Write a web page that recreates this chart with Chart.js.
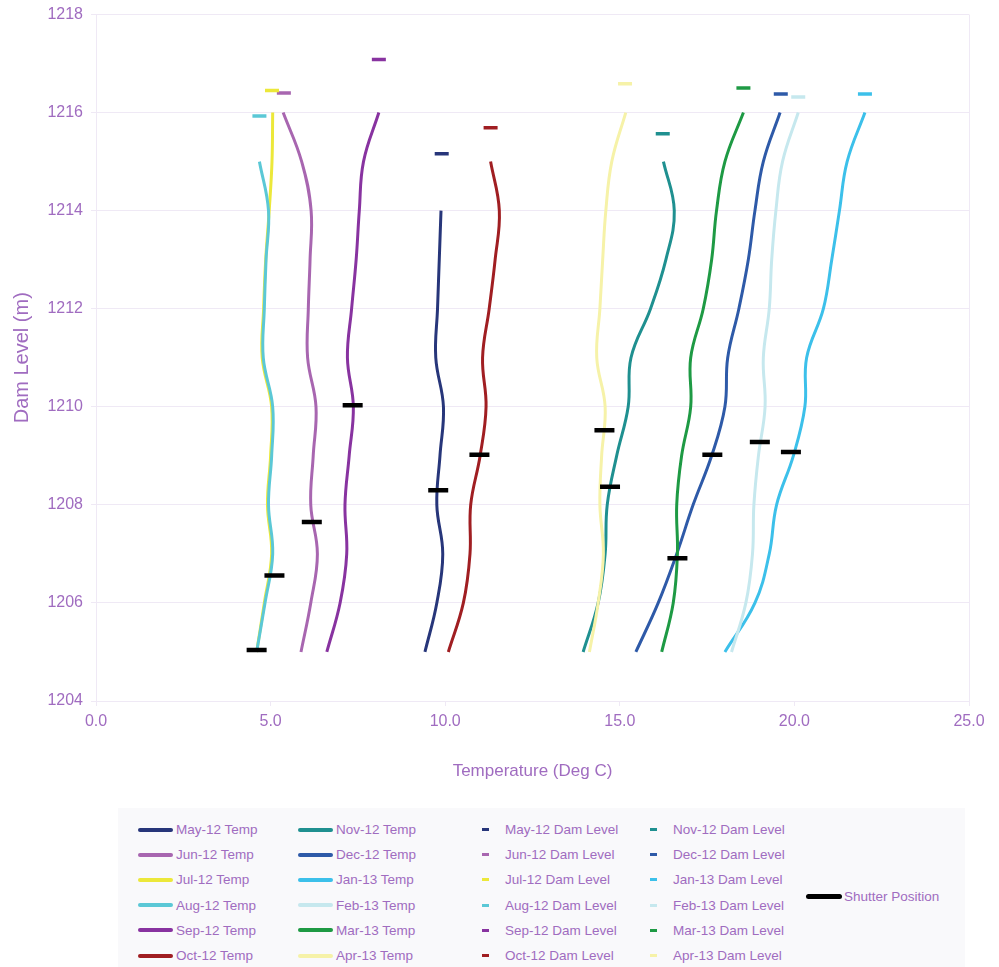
<!DOCTYPE html>
<html>
<head>
<meta charset="utf-8">
<script src="https://cdn.jsdelivr.net/npm/chart.js@4.4.1/dist/chart.umd.min.js"></script>
<style>
  body { margin: 0; background: #fff; font-family: 'Liberation Sans', Arial, sans-serif; }
  #wrap { position: relative; width: 999px; height: 967px; }
  #chartBox { position: absolute; left: 0; top: 0; width: 999px; height: 800px; }
  #legend {
    position: absolute; left: 118px; top: 808px; width: 847px; height: 159px;
    background: #f9f9fb; box-sizing: border-box; padding: 9px 0 0 20px;
    display: grid; grid-template-columns: 160px 184px 168px 156px 1fr;
    grid-template-rows: repeat(6, 25.2px); grid-auto-flow: column;
    color: #a06cc0; font-size: 13.5px;
  }
  .item { display: flex; align-items: center; white-space: nowrap; }
  .sw { display: inline-block; flex: none; }
</style>
</head>
<body>
<div id="wrap">
  <div id="chartBox"><canvas id="damChart"></canvas></div>
  <div id="legend"></div>
</div>
<script>
// dam levels (m) at which each temperature was measured
const levels = [1205, 1206, 1207, 1208, 1209, 1210, 1211, 1212, 1213, 1214, 1215, 1216];
const months = ['May-12', 'Jun-12', 'Jul-12', 'Aug-12', 'Sep-12', 'Oct-12',
                'Nov-12', 'Dec-12', 'Jan-13', 'Feb-13', 'Mar-13', 'Apr-13'];

// temperature profiles (Deg C), from the bottom level up
const may12Temp = [9.42, 9.76, 9.93, 9.76, 9.85, 9.95, 9.73, 9.78, 9.83, 9.88];
const jun12Temp = [5.87, 6.15, 6.34, 6.15, 6.22, 6.30, 6.06, 6.08, 6.13, 6.16, 5.89, 5.36];
const jul12Temp = [4.60, 4.82, 5.03, 4.91, 5.00, 5.03, 4.76, 4.80, 4.86, 4.96, 5.04, 5.06];
const aug12Temp = [4.60, 4.84, 5.06, 4.94, 5.03, 5.06, 4.79, 4.82, 4.87, 4.94, 4.68];
const sep12Temp = [6.61, 6.99, 7.18, 7.13, 7.25, 7.37, 7.20, 7.32, 7.45, 7.54, 7.66, 8.10];
const oct12Temp = [10.09, 10.52, 10.71, 10.73, 11.00, 11.17, 11.07, 11.26, 11.43, 11.55, 11.30];
const nov12Temp = [13.95, 14.38, 14.58, 14.64, 14.91, 15.24, 15.32, 15.88, 16.32, 16.56, 16.25];
const dec12Temp = [15.46, 16.10, 16.63, 17.10, 17.63, 18.01, 18.09, 18.41, 18.68, 18.87, 19.11, 19.59];
const jan13Temp = [18.01, 18.87, 19.28, 19.49, 19.97, 20.30, 20.35, 20.83, 21.07, 21.29, 21.51, 22.02];
const feb13Temp = [18.20, 18.61, 18.80, 18.84, 18.97, 19.16, 19.11, 19.28, 19.35, 19.47, 19.66, 20.11];
const mar13Temp = [16.20, 16.53, 16.65, 16.63, 16.77, 17.03, 17.03, 17.39, 17.63, 17.77, 18.01, 18.54];
const apr13Temp = [14.13, 14.38, 14.53, 14.43, 14.48, 14.58, 14.34, 14.43, 14.51, 14.60, 14.77, 15.17];

// dam level of each month (one point per month)
const damTemp  = [9.90, 5.38, 5.04, 4.68, 8.10, 11.30, 16.23, 19.61, 22.02, 20.11, 18.54, 15.15];
const damLevel = [1215.16, 1216.40, 1216.45, 1215.93, 1217.08, 1215.69,
                  1215.57, 1216.38, 1216.38, 1216.32, 1216.50, 1216.59];

// shutter positions
const shutterTemp  = [4.60, 5.11, 6.18, 7.35, 9.80, 10.98, 14.56, 14.72, 16.65, 17.65, 19.01, 19.90];
const shutterLevel = [1205.04, 1206.56, 1207.65, 1210.03, 1208.30, 1209.02,
                      1209.52, 1208.37, 1206.91, 1209.02, 1209.28, 1209.08];

const xTicks = [0, 5, 10, 15, 20, 25];
const yTicks = [1204, 1206, 1208, 1210, 1212, 1214, 1216, 1218];

const tempSeries = [may12Temp, jun12Temp, jul12Temp, aug12Temp, sep12Temp, oct12Temp,
                    nov12Temp, dec12Temp, jan13Temp, feb13Temp, mar13Temp, apr13Temp];
const colors = ['#27367a', '#a866b0', '#ece83a', '#5bc8d6', '#8833a0', '#a01e22',
                '#1f9090', '#2e5aa8', '#3cc0ea', '#c6e8ee', '#1e9a44', '#f6f2a8'];

const txt = '#a06cc0';
const gridCol = '#efe9f5';
const font = "'Liberation Sans', Arial, sans-serif";

const datasets = [];
// later series are drawn on top (lower order = drawn later)
tempSeries.forEach((s, i) => {
    datasets.push({
        label: months[i] + ' Temp',
        data: s.map((t, k) => ({ x: t, y: levels[k] })),
        showLine: true,
        borderColor: colors[i],
        backgroundColor: colors[i],
        borderWidth: 3,
        pointRadius: 0,
        tension: 0.4,
        order: 60 - i
    });
});
months.forEach((m, i) => {
    datasets.push({
        label: m + ' Dam Level',
        data: [{ x: damTemp[i], y: damLevel[i] }],
        showLine: false,
        pointStyle: 'line',
        pointRadius: 7,
        pointBorderWidth: 3.5,
        borderColor: colors[i],
        backgroundColor: colors[i],
        order: 30 - i
    });
});
datasets.push({
    label: 'Shutter Position',
    data: shutterTemp.map((t, k) => ({ x: t, y: shutterLevel[k] })),
    showLine: false,
    pointStyle: 'line',
    pointRadius: 10,
    pointBorderWidth: 4.5,
    borderColor: '#000',
    backgroundColor: '#000',
    order: 0
});

const ctx = document.getElementById('damChart').getContext('2d');
new Chart(ctx, {
    type: 'scatter',
    data: { datasets: datasets },
    options: {
        responsive: true,
        maintainAspectRatio: false,
        animation: false,
        layout: { padding: { top: 14, right: 30, bottom: 14, left: 0 } },
        plugins: {
            legend: { display: false },
            tooltip: { enabled: false }
        },
        scales: {
            x: {
                type: 'linear',
                min: xTicks[0],
                max: xTicks[xTicks.length - 1],
                afterBuildTicks: function (scale) {
                    scale.ticks = xTicks.map(v => ({ value: v }));
                },
                afterFit: function (scale) { scale.height = 85; },
                grid: {
                    color: c => c.tick && c.tick.value === 25 ? gridCol : 'rgba(0,0,0,0)',
                    tickColor: gridCol,
                    tickLength: 5
                },
                border: { color: gridCol },
                ticks: {
                    color: txt,
                    padding: 6,
                    font: { family: font, size: 16 },
                    callback: v => v.toFixed(1)
                },
                title: {
                    display: true,
                    text: 'Temperature (Deg C)',
                    color: txt,
                    font: { family: font, size: 17 },
                    padding: { top: 0, bottom: 4 }
                }
            },
            y: {
                type: 'linear',
                min: yTicks[0],
                max: yTicks[yTicks.length - 1],
                afterBuildTicks: function (scale) {
                    scale.ticks = yTicks.map(v => ({ value: v }));
                },
                afterFit: function (scale) {
                    scale.width = 96;
                    scale.paddingTop = 0;
                    scale.paddingBottom = 0;
                },
                grid: { color: gridCol, tickColor: gridCol, tickLength: 5 },
                border: { color: gridCol },
                ticks: {
                    color: txt,
                    padding: 8,
                    font: { family: font, size: 16 },
                    callback: v => String(v)
                },
                title: {
                    display: true,
                    text: 'Dam Level (m)',
                    color: txt,
                    font: { family: font, size: 20 },
                    padding: { top: 10, bottom: 0 }
                }
            }
        }
    }
});

// html legend: temps in two columns, dam levels in two columns, shutter on the right
const legend = document.getElementById('legend');
function addItem(label, swatchCss, gap) {
    const d = document.createElement('div');
    d.className = 'item';
    const sw = document.createElement('span');
    sw.className = 'sw';
    sw.style.cssText = swatchCss + ';margin-right:' + gap + 'px';
    d.appendChild(sw);
    d.appendChild(document.createTextNode(label));
    legend.appendChild(d);
    return d;
}
months.forEach((m, i) => {
    addItem(m + ' Temp', 'width:35px;height:4px;border-radius:2px;background:' + colors[i], 3);
});
months.forEach((m, i) => {
    addItem(m + ' Dam Level', 'width:7px;height:3px;background:' + colors[i], 16);
});
const sh = addItem('Shutter Position', 'width:36px;height:5px;border-radius:3px;background:#000', 2);
sh.style.gridColumn = '5';
sh.style.gridRow = '1 / span 6';
sh.style.paddingTop = '8px';
</script>
</body>
</html>
